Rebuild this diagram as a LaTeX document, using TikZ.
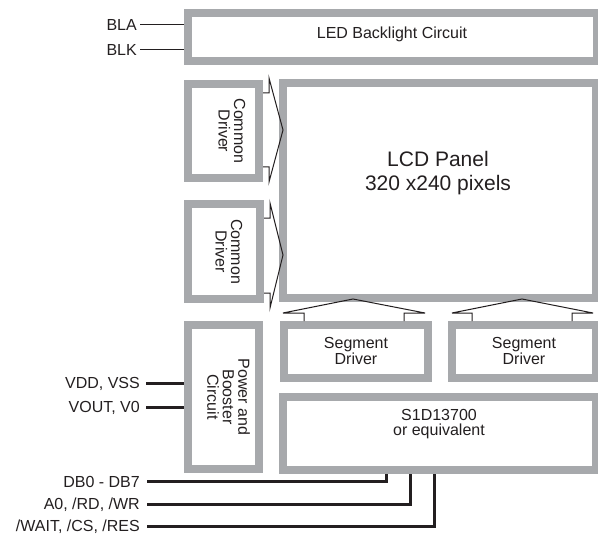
\documentclass[tikz,border=0pt]{standalone}
\usepackage{fontspec}
\setmainfont{Liberation Sans}
\usetikzlibrary{calc}
\definecolor{boxgray}{HTML}{A7A9AC}
\definecolor{ink}{HTML}{231F20}
\begin{document}
\begin{tikzpicture}[x=1pt,y=-1pt,
  blk/.style={draw=boxgray, line width=8pt, fill=white, inner sep=0pt},
  txt/.style={text=ink, inner sep=0pt, align=center, font=\fontsize{16}{15.5}\selectfont},
  rtxt/.style={txt, rotate=-90, font=\fontsize{16}{15.5}\selectfont},
  lbl/.style={text=ink, inner sep=0pt, anchor=east, font=\fontsize{16}{16}\selectfont},
  thin/.style={draw=ink, line width=1pt, line join=miter},
  bus/.style={draw=ink, line width=3pt, line join=miter}]
\useasboundingbox (0,0) rectangle (598,535);
% boxes
\node[blk, minimum width=409pt, minimum height=48pt] (led) at (392.5,37) {};
\node[blk, minimum width=313pt, minimum height=215pt] (lcd) at (439.5,190.5) {};
\node[blk, minimum width=71pt, minimum height=94pt] (cd1) at (223.5,131) {};
\node[blk, minimum width=72pt, minimum height=95pt] (cd2) at (224,251.5) {};
\node[blk, minimum width=71pt, minimum height=144pt] (pwr) at (223.5,397) {};
\node[blk, minimum width=144pt, minimum height=53pt] (seg1) at (356,351.5) {};
\node[blk, minimum width=144pt, minimum height=53pt] (seg2) at (524,351.5) {};
\node[blk, minimum width=313pt, minimum height=73pt] (s1d) at (439.5,433.5) {};
% texts
\node[txt] (ledt) at (392,34) {LED Backlight Circuit};
\node[txt, font=\fontsize{21}{24}\selectfont] (lcdt) at (438,173.5) {LCD Panel\\320 x240 pixels};
\node[rtxt] (cd1t) at (232,131) {Common\\Driver};
\node[rtxt] (cd2t) at (229,251.5) {Common\\Driver};
\node[rtxt] (pwrt) at (228.5,397) {Power and\\Booster\\Circuit};
\node[txt] (seg1t) at (356,351) {Segment\\Driver};
\node[txt] (seg2t) at (524,351) {Segment\\Driver};
\node[txt] (s1dt) at (439,424) {S1D13700\\or equivalent};
% arrows
\draw[thin] (263,93) -- (269,93) -- (269,78) -- (283,130) -- (269,182) -- (269,167) -- (263,167);
\draw[thin] (264,218) -- (270,218) -- (270,203) -- (283,255) -- (270,308) -- (270,293) -- (264,293);
\draw[thin] (304,321) -- (304,313) -- (283,313) -- (353,299) -- (425,313) -- (404,313) -- (404,321);
\draw[thin] (472,321) -- (472,313) -- (452,313) -- (522,299) -- (593,313) -- (572,313) -- (572,321);
% labels
\node[lbl] (bla) at (137,24.5) {BLA};
\node[lbl] (blk) at (137,49.5) {BLK};
\node[lbl] (vdd) at (140,383.5) {VDD, VSS};
\node[lbl] (vout) at (140,407.5) {VOUT, V0};
\node[lbl] (db) at (140,481.5) {DB0 - DB7};
\node[lbl] (a0) at (140,504.5) {A0, /RD, /WR};
\node[lbl] (wt) at (140,526.5) {/WAIT, /CS, /RES};
% connectors
\draw[thin] ([xshift=3pt]bla.east) -- (bla.east -| led.west);
\draw[thin] ([xshift=3pt]blk.east) -- (blk.east -| led.west);
\draw[bus] ([xshift=6pt]vdd.east) -- (vdd.east -| pwr.west);
\draw[bus] ([xshift=6pt]vout.east) -- (vout.east -| pwr.west);
\coordinate (b1) at ($(s1d.south west)+(107,0)$);
\coordinate (b2) at ($(s1d.south west)+(131,0)$);
\coordinate (b3) at ($(s1d.south west)+(155,0)$);
\draw[bus] ([xshift=7pt]db.east) -| (b1);
\draw[bus] ([xshift=7pt]a0.east) -| (b2);
\draw[bus] ([xshift=7pt]wt.east) -| (b3);
\end{tikzpicture}
\end{document}
